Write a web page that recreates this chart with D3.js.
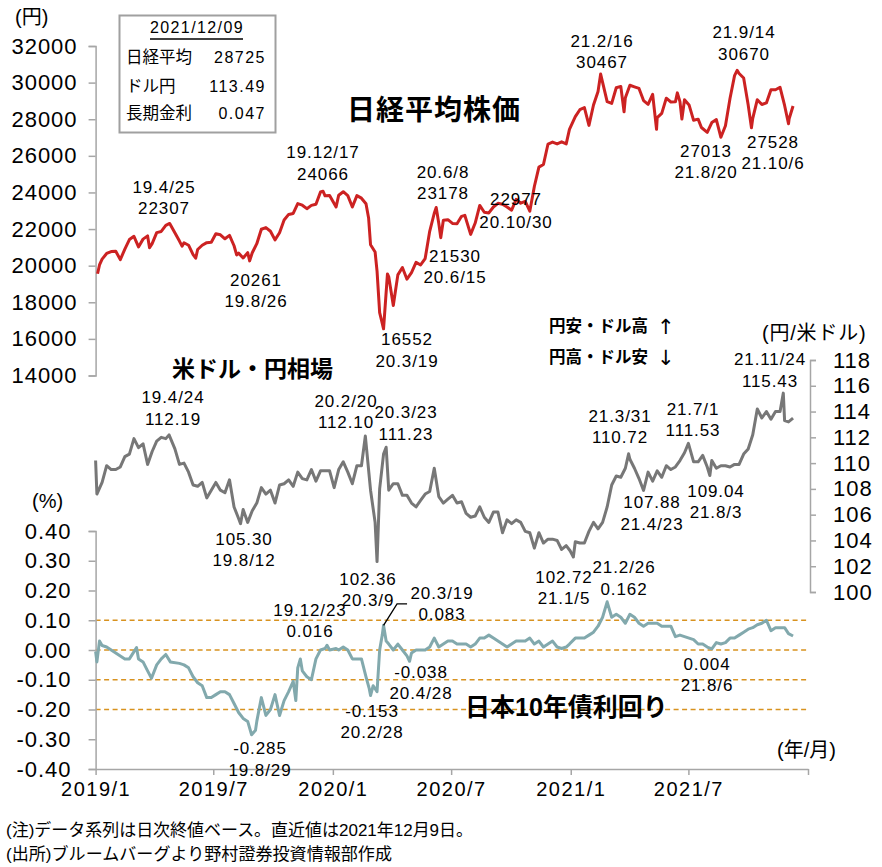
<!DOCTYPE html>
<html><head><meta charset="utf-8">
<script src="https://cdn.jsdelivr.net/npm/d3@7"></script>
<style>
html,body{margin:0;padding:0;background:#fff;}
svg{display:block;font-family:"Liberation Sans","Noto Sans CJK JP",sans-serif;}
</style></head><body>
<svg id="c" width="882" height="867"></svg>
<script>
// ---------------- DATA ----------------
const nikkei = [["2019-01-04",19561],["2019-01-07",20038],["2019-01-11",20359],["2019-01-18",20666],["2019-01-25",20773],["2019-02-01",20788],["2019-02-08",20333],["2019-02-15",20900],["2019-02-22",21425],["2019-03-01",21602],["2019-03-08",21025],["2019-03-15",21450],["2019-03-22",21627],["2019-03-25",20977],["2019-03-29",21205],["2019-04-05",21807],["2019-04-12",21870],["2019-04-19",22200],["2019-04-25",22307],["2019-05-10",21344],["2019-05-14",21067],["2019-05-17",21250],["2019-05-24",21117],["2019-05-31",20601],["2019-06-04",20408],["2019-06-07",20884],["2019-06-14",21116],["2019-06-21",21258],["2019-06-28",21276],["2019-07-05",21746],["2019-07-12",21686],["2019-07-19",21467],["2019-07-26",21658],["2019-08-02",21087],["2019-08-06",20585],["2019-08-09",20685],["2019-08-16",20418],["2019-08-23",20711],["2019-08-26",20261],["2019-08-30",20704],["2019-09-06",21200],["2019-09-13",21988],["2019-09-20",22079],["2019-09-27",21879],["2019-10-04",21410],["2019-10-11",21799],["2019-10-18",22492],["2019-10-25",22799],["2019-11-01",22851],["2019-11-08",23391],["2019-11-15",23303],["2019-11-22",23113],["2019-11-29",23294],["2019-12-06",23354],["2019-12-13",24023],["2019-12-17",24066],["2019-12-20",23816],["2019-12-27",23837],
["2020-01-06",23204],["2020-01-10",23850],["2020-01-17",24041],["2020-01-24",23827],["2020-01-31",23205],["2020-02-07",23827],["2020-02-14",23687],["2020-02-21",23386],["2020-02-25",22605],["2020-02-28",21142],["2020-03-06",20749],["2020-03-09",19698],["2020-03-13",17431],["2020-03-16",17002],["2020-03-19",16552],["2020-03-25",19546],["2020-03-27",19389],["2020-04-03",17820],["2020-04-10",19498],["2020-04-17",19897],["2020-04-24",19262],["2020-05-01",19619],["2020-05-08",20179],["2020-05-15",20037],["2020-05-22",20388],["2020-05-29",21877],["2020-06-05",22863],["2020-06-08",23178],["2020-06-12",22305],["2020-06-15",21530],["2020-06-19",22478],["2020-06-26",22512],["2020-07-03",22306],["2020-07-10",22290],["2020-07-17",22696],["2020-07-22",22751],["2020-07-31",21710],["2020-08-07",22329],["2020-08-14",23289],["2020-08-21",22920],["2020-08-28",22882],["2020-09-04",23205],["2020-09-11",23406],["2020-09-18",23360],["2020-09-25",23205],["2020-10-02",23029],["2020-10-09",23620],["2020-10-16",23410],["2020-10-23",23516],["2020-10-30",22977],["2020-11-06",24325],["2020-11-13",25385],["2020-11-20",25527],["2020-11-27",26644],["2020-12-04",26751],["2020-12-11",26652],["2020-12-18",26763],["2020-12-25",26656],["2020-12-30",27444],
["2021-01-08",28139],["2021-01-15",28519],["2021-01-22",28631],["2021-01-29",27663],["2021-02-05",28779],["2021-02-12",29520],["2021-02-16",30467],["2021-02-19",30018],["2021-02-26",28966],["2021-03-05",28864],["2021-03-12",29717],["2021-03-19",29792],["2021-03-24",28406],["2021-03-26",29176],["2021-04-02",29854],["2021-04-09",29768],["2021-04-16",29683],["2021-04-23",29020],["2021-04-30",28812],["2021-05-07",29357],["2021-05-13",27448],["2021-05-14",28084],["2021-05-21",28317],["2021-05-28",29149],["2021-06-04",28941],["2021-06-11",28948],["2021-06-14",29441],["2021-06-18",28964],["2021-06-21",28011],["2021-06-25",29066],["2021-07-02",28783],["2021-07-09",27940],["2021-07-16",28003],["2021-07-21",27548],["2021-07-30",27283],["2021-08-06",27820],["2021-08-13",27977],["2021-08-20",27013],["2021-08-27",27641],["2021-09-03",29128],["2021-09-10",30382],["2021-09-14",30670],["2021-09-17",30500],["2021-09-24",30249],["2021-10-01",28771],["2021-10-06",27528],["2021-10-08",28048],["2021-10-15",29068],["2021-10-22",28804],["2021-10-29",28892],["2021-11-05",29611],["2021-11-12",29609],["2021-11-19",29745],["2021-11-26",28751],["2021-12-02",27753],["2021-12-03",28029],["2021-12-09",28725]];

const usdjpy = [["2019-01-01",110.2],["2019-01-03",107.6],["2019-01-11",108.5],["2019-01-18",109.8],["2019-01-25",109.5],["2019-02-01",109.5],["2019-02-08",109.7],["2019-02-15",110.5],["2019-02-22",110.7],["2019-03-01",111.9],["2019-03-08",111.2],["2019-03-15",111.5],["2019-03-22",109.9],["2019-03-29",110.9],["2019-04-05",111.7],["2019-04-12",112.0],["2019-04-19",111.9],["2019-04-24",112.19],["2019-05-03",111.1],["2019-05-10",109.9],["2019-05-17",110.0],["2019-05-24",109.3],["2019-05-31",108.3],["2019-06-07",108.2],["2019-06-14",108.5],["2019-06-21",107.3],["2019-06-28",107.9],["2019-07-05",108.5],["2019-07-12",107.9],["2019-07-19",107.7],["2019-07-26",108.7],["2019-08-02",106.6],["2019-08-09",105.7],["2019-08-12",105.30],["2019-08-16",106.4],["2019-08-23",105.4],["2019-08-30",106.3],["2019-09-06",106.9],["2019-09-13",108.1],["2019-09-20",107.6],["2019-09-27",107.9],["2019-10-04",106.9],["2019-10-11",108.3],["2019-10-18",108.4],["2019-10-25",108.7],["2019-11-01",108.2],["2019-11-08",109.3],["2019-11-15",108.8],["2019-11-22",108.7],["2019-11-29",109.5],["2019-12-06",108.6],["2019-12-13",109.4],["2019-12-20",109.4],["2019-12-27",109.4],
["2020-01-03",108.1],["2020-01-10",109.5],["2020-01-17",110.1],["2020-01-24",109.3],["2020-01-31",108.4],["2020-02-07",109.8],["2020-02-14",109.8],["2020-02-20",112.10],["2020-02-28",107.9],["2020-03-06",105.4],["2020-03-09",102.36],["2020-03-13",108.0],["2020-03-19",110.7],["2020-03-23",111.23],["2020-03-27",107.9],["2020-04-03",108.4],["2020-04-10",108.4],["2020-04-17",107.5],["2020-04-24",107.5],["2020-05-01",106.9],["2020-05-08",106.6],["2020-05-15",107.1],["2020-05-22",107.6],["2020-05-29",107.8],["2020-06-05",109.6],["2020-06-12",107.4],["2020-06-19",106.9],["2020-06-26",107.2],["2020-07-03",107.5],["2020-07-10",106.9],["2020-07-17",107.0],["2020-07-24",106.1],["2020-07-31",105.8],["2020-08-07",105.9],["2020-08-14",106.6],["2020-08-21",105.8],["2020-08-28",105.4],["2020-09-04",106.2],["2020-09-11",106.2],["2020-09-18",104.6],["2020-09-25",105.6],["2020-10-02",105.3],["2020-10-09",105.6],["2020-10-16",105.4],["2020-10-23",104.7],["2020-10-30",104.6],["2020-11-06",103.4],["2020-11-13",104.6],["2020-11-20",103.8],["2020-11-27",104.1],["2020-12-04",104.1],["2020-12-11",104.0],["2020-12-18",103.3],["2020-12-25",103.6],["2020-12-31",103.2],
["2021-01-05",102.72],["2021-01-08",103.9],["2021-01-15",103.8],["2021-01-22",103.8],["2021-01-29",104.7],["2021-02-05",105.4],["2021-02-12",104.9],["2021-02-19",105.4],["2021-02-26",106.6],["2021-03-05",108.3],["2021-03-12",109.0],["2021-03-19",108.9],["2021-03-26",109.6],["2021-03-31",110.72],["2021-04-02",110.3],["2021-04-09",109.6],["2021-04-16",108.8],["2021-04-23",107.88],["2021-04-30",109.3],["2021-05-07",108.6],["2021-05-14",109.4],["2021-05-21",108.9],["2021-05-28",109.8],["2021-06-04",109.5],["2021-06-11",109.7],["2021-06-18",110.2],["2021-06-25",110.8],["2021-07-01",111.53],["2021-07-09",110.1],["2021-07-16",110.1],["2021-07-23",110.6],["2021-07-30",109.7],["2021-08-03",109.04],["2021-08-06",110.2],["2021-08-13",109.6],["2021-08-20",109.8],["2021-08-27",109.8],["2021-09-03",109.7],["2021-09-10",109.9],["2021-09-17",109.9],["2021-09-24",110.7],["2021-10-01",111.1],["2021-10-08",112.2],["2021-10-15",114.2],["2021-10-22",113.5],["2021-10-29",114.0],["2021-11-05",113.4],["2021-11-12",114.0],["2021-11-19",114.0],["2021-11-24",115.43],["2021-11-26",113.3],["2021-12-02",113.2],["2021-12-09",113.49]];

const jgb = [["2019-01-01",-0.005],["2019-01-03",-0.04],["2019-01-07",0.03],["2019-01-11",0.015],["2019-01-18",0.01],["2019-01-25",0.0],["2019-02-01",-0.01],["2019-02-08",-0.02],["2019-02-15",-0.03],["2019-02-22",-0.03],["2019-03-05",0.008],["2019-03-08",-0.03],["2019-03-15",-0.04],["2019-03-22",-0.07],["2019-03-28",-0.095],["2019-04-05",-0.05],["2019-04-12",-0.03],["2019-04-19",-0.015],["2019-04-26",-0.04],["2019-05-10",-0.045],["2019-05-17",-0.05],["2019-05-24",-0.06],["2019-05-31",-0.09],["2019-06-07",-0.11],["2019-06-14",-0.12],["2019-06-21",-0.16],["2019-06-28",-0.16],["2019-07-05",-0.15],["2019-07-12",-0.14],["2019-07-19",-0.14],["2019-07-26",-0.15],["2019-08-02",-0.18],["2019-08-09",-0.21],["2019-08-16",-0.23],["2019-08-23",-0.24],["2019-08-29",-0.285],["2019-09-04",-0.27],["2019-09-06",-0.24],["2019-09-13",-0.16],["2019-09-20",-0.22],["2019-09-27",-0.2],["2019-10-04",-0.15],["2019-10-11",-0.22],["2019-10-18",-0.17],["2019-10-25",-0.14],["2019-11-01",-0.105],["2019-11-05",-0.17],["2019-11-08",-0.06],["2019-11-12",-0.03],["2019-11-15",-0.07],["2019-11-22",-0.09],["2019-11-29",-0.1],["2019-12-06",-0.03],["2019-12-13",0.0],["2019-12-20",0.005],["2019-12-23",0.016],["2019-12-27",0.0],
["2020-01-06",0.005],["2020-01-10",0.0],["2020-01-17",0.01],["2020-01-24",0.0],["2020-01-31",-0.03],["2020-02-07",-0.03],["2020-02-14",-0.03],["2020-02-21",-0.09],["2020-02-26",-0.13],["2020-02-28",-0.153],["2020-03-03",-0.12],["2020-03-06",-0.13],["2020-03-09",-0.14],["2020-03-13",0.0],["2020-03-17",0.05],["2020-03-19",0.083],["2020-03-23",0.03],["2020-03-27",0.02],["2020-04-03",0.0],["2020-04-10",0.02],["2020-04-17",0.0],["2020-04-24",-0.02],["2020-04-28",-0.038],["2020-05-01",-0.01],["2020-05-08",0.0],["2020-05-15",0.0],["2020-05-22",0.0],["2020-05-29",0.01],["2020-06-05",0.04],["2020-06-12",0.01],["2020-06-19",0.02],["2020-06-26",0.03],["2020-07-03",0.03],["2020-07-10",0.02],["2020-07-17",0.02],["2020-07-24",0.02],["2020-07-31",0.01],["2020-08-07",0.02],["2020-08-14",0.04],["2020-08-21",0.04],["2020-08-28",0.05],["2020-09-04",0.04],["2020-09-11",0.03],["2020-09-18",0.02],["2020-09-25",0.01],["2020-10-02",0.02],["2020-10-09",0.03],["2020-10-16",0.03],["2020-10-23",0.03],["2020-10-30",0.04],["2020-11-06",0.02],["2020-11-13",0.03],["2020-11-20",0.01],["2020-11-27",0.02],["2020-12-04",0.03],["2020-12-11",0.01],["2020-12-18",0.005],["2020-12-25",0.01],["2020-12-30",0.02],
["2021-01-08",0.04],["2021-01-15",0.04],["2021-01-22",0.04],["2021-01-29",0.05],["2021-02-05",0.06],["2021-02-12",0.08],["2021-02-19",0.11],["2021-02-26",0.162],["2021-03-05",0.11],["2021-03-12",0.12],["2021-03-19",0.11],["2021-03-26",0.09],["2021-04-02",0.12],["2021-04-09",0.11],["2021-04-16",0.09],["2021-04-23",0.08],["2021-04-30",0.09],["2021-05-07",0.09],["2021-05-14",0.09],["2021-05-21",0.08],["2021-05-28",0.08],["2021-06-04",0.08],["2021-06-11",0.045],["2021-06-18",0.05],["2021-06-25",0.045],["2021-07-02",0.04],["2021-07-09",0.035],["2021-07-16",0.02],["2021-07-23",0.02],["2021-07-30",0.01],["2021-08-06",0.004],["2021-08-13",0.025],["2021-08-20",0.02],["2021-08-27",0.025],["2021-09-03",0.04],["2021-09-10",0.04],["2021-09-17",0.05],["2021-09-24",0.06],["2021-10-01",0.07],["2021-10-08",0.075],["2021-10-15",0.085],["2021-10-22",0.09],["2021-10-29",0.10],["2021-11-05",0.065],["2021-11-12",0.075],["2021-11-19",0.075],["2021-11-26",0.075],["2021-12-02",0.055],["2021-12-09",0.047]];

const xTickDates = ["2019-01-01","2019-07-01","2020-01-01","2020-07-01","2021-01-01","2021-07-01","2022-01-01"];
const xTickLabels = ["2019/1","2019/7","2020/1","2020/7","2021/1","2021/7",""];
const nikkeiTicks = [14000,16000,18000,20000,22000,24000,26000,28000,30000,32000];
const usdTicks = [100,102,104,106,108,110,112,114,116,118];
const jgbTicks = [-0.4,-0.3,-0.2,-0.1,0,0.1,0.2,0.3,0.4];
const jgbGuides = [0.1,0,-0.1,-0.2];

const legendDate = "2021/12/09";
const legendLabels = ["日経平均","ドル円","長期金利"];
const legendValues = ["28725","113.49","0.047"];

const nikkeiNotes = [["19.4/25","22307"],["20261","19.8/26"],["19.12/17","24066"],["16552","20.3/19"],["20.6/8","23178"],["21530","20.6/15"],["22977","20.10/30"],["21.2/16","30467"],["21.9/14","30670"],["27013","21.8/20"],["27528","21.10/6"]];
const usdNotes = [["19.4/24","112.19"],["105.30","19.8/12"],["20.2/20","112.10"],["20.3/23","111.23"],["102.36","20.3/9"],["102.72","21.1/5"],["21.3/31","110.72"],["107.88","21.4/23"],["21.7/1","111.53"],["109.04","21.8/3"],["21.11/24","115.43"]];
const jgbNotes = [["19.12/23","0.016"],["-0.285","19.8/29"],["-0.153","20.2/28"],["20.3/19","0.083"],["-0.038","20.4/28"],["21.2/26","0.162"],["0.004","21.8/6"]];

// ---------------- LAYOUT (label positions: centre x, baseline1, baseline2) ----------------
const nikkeiNotePos = [[164,193,214],[256,286,307],[323,158,180],[407,345,367],[443,178,199],[455,262,283],[516,205,228],[602,47,68],[744,38,60],[706,157,178],[773,148,169]];
const usdNotePos = [[173,403,425],[244,545,566],[346,407,428],[406,418,440],[368,585,606],[564,583,604],[620,422,443],[652,508,530],[693,415,436],[716,497,518],[770,365,387]];
const jgbNotePos = [[310,616,637],[260,754,776],[372,717,738],[442,599,620],[421,678,699],[624,573,595],[707,670,691]];

const parse = d3.timeParse("%Y-%m-%d");
const svg = d3.select("#c");
const AX = "#a6a6a6";

const x = d3.scaleTime().domain([parse("2019-01-01"), parse("2022-01-01")]).range([95.6, 808]);
const yN = d3.scaleLinear().domain([14000, 32000]).range([375.5, 46]);
const yU = d3.scaleLinear().domain([100, 118]).range([592, 360]);
const yJ = d3.scaleLinear().domain([-0.4, 0.4]).range([769, 531]);

function styleAxis(g, fs, ls) {
  g.select(".domain").attr("stroke", AX).attr("stroke-width", 1.5);
  g.selectAll(".tick line").attr("stroke", AX).attr("stroke-width", 1.5);
  g.selectAll(".tick text").attr("fill", "#000").style("font-size", fs + "px").style("letter-spacing", ls + "px");
}

// guides
svg.append("g").selectAll("line").data(jgbGuides).join("line")
  .attr("x1", 95.6).attr("x2", 808).attr("y1", d => yJ(d)).attr("y2", d => yJ(d))
  .attr("stroke", "#d8921f").attr("stroke-width", 1.5).attr("stroke-dasharray", "5,3.5");

// axes
const gN = svg.append("g").attr("transform", "translate(95.6,0)")
  .call(d3.axisLeft(yN).tickValues(nikkeiTicks).tickSize(7).tickSizeOuter(7).tickPadding(11).tickFormat(d3.format("d")));
styleAxis(gN, 22, 1);
const gU = svg.append("g").attr("transform", "translate(810,0)")
  .call(d3.axisRight(yU).tickValues(usdTicks).tickSize(6).tickSizeOuter(6).tickPadding(17).tickFormat(d3.format("d")));
styleAxis(gU, 22, 1);
const gJ = svg.append("g").attr("transform", "translate(95.6,0)")
  .call(d3.axisLeft(yJ).tickValues(jgbTicks).tickSize(7).tickSizeOuter(7).tickPadding(17).tickFormat(d => d3.format(".2f")(d).replace("\u2212", "-")));
styleAxis(gJ, 22, 1);
const gX = svg.append("g").attr("transform", "translate(0,769)")
  .call(d3.axisBottom(x).tickValues(xTickDates.map(parse)).tickSize(6).tickSizeOuter(0).tickPadding(7).tickFormat((d, i) => xTickLabels[i]));
styleAxis(gX, 20, 1.5);

// lines
const mk = (data, ys) => d3.line().x(d => x(parse(d[0]))).y(d => ys(d[1]))(data);
svg.append("path").attr("d", mk(nikkei, yN)).attr("fill", "none").attr("stroke", "#cc2222").attr("stroke-width", 3).attr("stroke-linejoin", "round");
svg.append("path").attr("d", mk(usdjpy, yU)).attr("fill", "none").attr("stroke", "#777777").attr("stroke-width", 3).attr("stroke-linejoin", "round");
svg.append("path").attr("d", mk(jgb, yJ)).attr("fill", "none").attr("stroke", "#82a9ad").attr("stroke-width", 3).attr("stroke-linejoin", "round");

// leader line for 20.3/19 JGB peak
const peak = jgb.find(d => d[0] === "2020-03-19");
const px = x(parse(peak[0])), py = yJ(peak[1]);
svg.append("path").attr("d", `M${px},${py}L${px + 13.5},${py - 21.5}H${px + 23.5}`)
  .attr("fill", "none").attr("stroke", "#000").attr("stroke-width", 1.3);

// annotations
function notes(texts, pos) {
  texts.forEach((t, i) => {
    const p = pos[i];
    [0, 1].forEach(k => {
      svg.append("text").attr("x", p[0]).attr("y", p[1 + k]).attr("text-anchor", "middle")
        .style("font-size", "17px").style("letter-spacing", "0.9px").attr("fill", "#000").text(t[k]);
    });
  });
}
notes(nikkeiNotes, nikkeiNotePos);
notes(usdNotes, usdNotePos);
notes(jgbNotes, jgbNotePos);

// titles
function txt(s, xx, yy, fs, opts = {}) {
  const t = svg.append("text").attr("x", xx).attr("y", yy).style("font-size", fs + "px").attr("fill", "#000").text(s);
  if (opts.bold) t.style("font-weight", "bold");
  if (opts.anchor) t.attr("text-anchor", opts.anchor);
  if (opts.ls != null) t.style("letter-spacing", opts.ls + "px");
  if (opts.len) t.attr("textLength", opts.len).attr("lengthAdjust", "spacingAndGlyphs");
  if (opts.family) t.style("font-family", opts.family);
  return t;
}
txt("日経平均株価", 347, 120, 28, {bold: true, ls: 1});
txt("米ドル・円相場", 172, 377, 23, {bold: true});
txt("日本10年債利回り", 465, 716, 25, {bold: true});
txt("円安・ドル高", 549, 332, 16.5, {bold: true});
txt("↑", 657, 334, 21, {family: "DejaVu Sans"});
txt("円高・ドル安", 549, 363, 16.5, {bold: true});
txt("↓", 657, 365, 21, {family: "DejaVu Sans"});

// units
txt("(円)", 15, 24, 20);
txt("(円/米ドル)", 762, 340, 20, {ls: 0.8});
txt("(%)", 32, 508, 20);
txt("(年/月)", 777, 757, 20);

// legend box
svg.append("rect").attr("x", 119.5).attr("y", 15.5).attr("width", 156).attr("height", 117)
  .attr("fill", "#fff").attr("stroke", "#a0a0a0").attr("stroke-width", 2);
txt(legendDate, 197, 33, 16, {anchor: "middle", ls: 1.4});
svg.append("line").attr("x1", 150).attr("x2", 243).attr("y1", 39).attr("y2", 39).attr("stroke", "#000").attr("stroke-width", 1.5);
legendLabels.forEach((l, i) => {
  const yy = [63, 92, 119][i];
  txt(l, 126, yy, 16.5);
  txt(legendValues[i], 266, yy, 16, {anchor: "end", ls: 1.5});
});

// footer
txt("(注)データ系列は日次終値ベース。直近値は2021年12月9日。", 6, 836, 17, {len: 467});
txt("(出所)ブルームバーグより野村證券投資情報部作成", 6, 860, 17, {len: 386});
</script>
</body></html>
